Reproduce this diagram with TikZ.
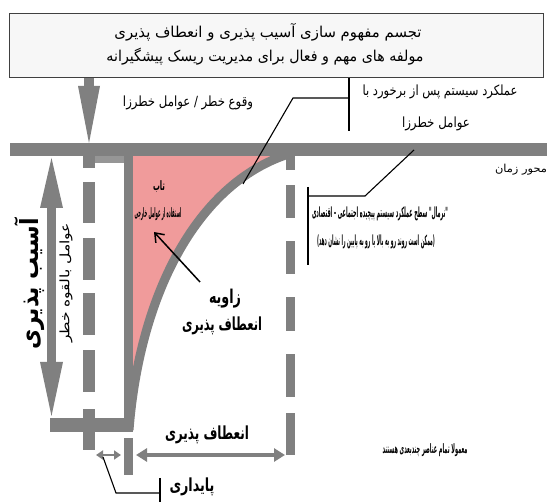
\documentclass[tikz,border=0pt]{standalone}
\usepackage{fontspec}
\usepackage{graphicx}
\usetikzlibrary{arrows.meta}
\TeXXeTstate=1
\newfontfamily\arabicfont[Script=Arabic]{DejaVu Sans}
\newcommand\fa[3]{\resizebox{#1}{\height}{\fontsize{#2}{#2}\selectfont\arabicfont #3}}
\newcommand\fab[3]{\resizebox{#1}{\height}{\fontsize{#2}{#2}\selectfont\arabicfont\bfseries #3}}
\definecolor{gbar}{RGB}{128,128,128}
\definecolor{gstep}{RGB}{150,150,150}
\definecolor{pinkf}{RGB}{240,155,155}
\definecolor{boxfill}{RGB}{247,247,247}
\tikzset{
  txt/.style={inner sep=0pt, text=black},
  thinline/.style={draw=black, line width=1.1pt},
}
\begin{document}
\begin{tikzpicture}[x=1pt,y=-1pt]
\useasboundingbox (0,0) rectangle (547,502);
% title box
\draw[draw=black!75, fill=boxfill, line width=1pt] (9,14) rectangle (543,78);
\node[txt] (t1) at (268,32) {\fa{307pt}{15pt}{\beginR تجسم مفهوم سازی آسیب پذیری و انعطاف پذیری\endR}};
\node[txt] (t2) at (265,57) {\fa{317pt}{15pt}{\beginR مولفه های مهم و فعال برای مدیریت ریسک پیشگیرانه\endR}};
% pink region
\fill[pinkf] (133,156) -- (133,430) .. controls (140,290) and (200,180) .. (292,153) -- cycle;
% time axis
\fill[gbar] (10,143) rectangle (547,156);
% down arrow
\fill[gbar] (84,78) rectangle (94,87);
\fill[gbar] (78,86) -- (100,86) -- (89,143) -- cycle;
% step and performance line
\fill[gstep] (83,156) rectangle (133,163);
\fill[gbar] (124,156) rectangle (133,432);
\fill[gbar] (50,418) rectangle (133,432);
\fill[gbar] (124,438) rectangle (133,475);
\draw[gbar, line width=9pt] (129,430) .. controls (140,290) and (200,180) .. (292,153);
% left dashed line
\foreach \a/\b in {143/168,182/223,238/280,293/335,350/392,409/450}
  \fill[gbar] (83,\a) rectangle (95,\b);
% right dashed line
\foreach \a/\b in {156/170,185/218,241/274,297/331,354/397,413/455}
  \fill[gbar] (286,\a) rectangle (295,\b);
% vertical double arrow (vulnerability)
\fill[gbar] (47,205) rectangle (56,365);
\fill[gbar] (40,208) -- (63,208) -- (51.5,158) -- cycle;
\fill[gbar] (40,362) -- (63,362) -- (51.5,416) -- cycle;
% horizontal arrows
\coordinate (ra) at (136,455);
\coordinate (rb) at (285,455);
\draw[gbar, line width=3.5pt, {Triangle[length=11pt,width=13pt]}-{Triangle[length=11pt,width=13pt]}] (ra) -- (rb);
\coordinate (sa) at (96,455);
\coordinate (sb) at (121,455);
\draw[gbar, line width=2.5pt, {Triangle[length=7pt,width=9pt]}-{Triangle[length=7pt,width=9pt]}] (sa) -- (sb);
% texts
\node[txt] (event) at (188,103) {\fa{130pt}{14pt}{\beginR وقوع خطر / عوامل خطرزا\endR}};
\node[txt] (perf1) at (440,92) {\fa{155pt}{14pt}{\beginR عملکرد سیستم پس از برخورد با\endR}};
\node[txt] (perf2) at (436,124) {\fa{68pt}{14pt}{\beginR عوامل خطرزا\endR}};
\node[txt] (axl) at (521,170) {\fa{52pt}{11pt}{\beginR محور زمان\endR}};
\node[txt] (p1) at (159,187) {\fab{12pt}{13pt}{\beginR تاب\endR}};
\node[txt] (p2) at (158,214) {\fab{47pt}{13pt}{\beginR استفاده از عوامل خارجی\endR}};
\node[txt] (n1) at (380,214) {\fab{136pt}{14pt}{\beginR "نرمال" سطح عملکرد سیستم پیچیده اجتماعی - اقتصادی\endR}};
\node[txt] (n2) at (376,242) {\fab{118pt}{14pt}{\beginR (ممکن است روند رو به بالا یا رو به پایین را نشان دهد)\endR}};
\node[txt] (z1) at (225,299) {\fab{32pt}{19pt}{\beginR زاویه\endR}};
\node[txt] (z2) at (222,326) {\fab{80pt}{18pt}{\beginR انعطاف پذیری\endR}};
\node[txt] (res) at (207,435) {\fab{84pt}{18pt}{\beginR انعطاف پذیری\endR}};
\node[txt] (pay) at (192,487) {\fab{45pt}{18pt}{\beginR پایداری\endR}};
\node[txt] (multi) at (425,450) {\fab{85pt}{13pt}{\beginR معمولا تمام عناصر چندبعدی هستند\endR}};
\node[txt, rotate=90] (vul) at (30,284) {\fab{132pt}{25pt}{\beginR آسیب پذیری\endR}};
\node[txt, rotate=90] (pot) at (66,283) {\fa{120pt}{13pt}{\beginR عوامل بالقوه خطر\endR}};
% thin black pointer lines
\coordinate (b1) at (349,78);
\coordinate (b2) at (349,131);
\coordinate (b3) at (349,98);
\coordinate (b4) at (293,98);
\coordinate (b5) at (243,184);
\draw[thinline] (b1) -- (b2);
\draw[thinline] (b3) -- (b4) -- (b5);
\coordinate (c1) at (308,187);
\coordinate (c2) at (308,265);
\coordinate (c3) at (308,196);
\coordinate (c4) at (365,196);
\coordinate (c5) at (414,150);
\draw[thinline] (c1) -- (c2);
\draw[thinline] (c3) -- (c4) -- (c5);
\coordinate (d1) at (103,457);
\coordinate (d2) at (116,493);
\coordinate (d3) at (160,493);
\coordinate (d4) at (160,478);
\coordinate (d5) at (160,502);
\draw[thinline] (d1) -- (d2) -- (d3);
\draw[thinline] (d4) -- (d5);
\coordinate (e1) at (200,282);
\coordinate (e2) at (154,232);
\draw[black, line width=1.5pt, -{Straight Barb[length=8pt,width=12pt]}] (e1) -- (e2);
\end{tikzpicture}
\end{document}
